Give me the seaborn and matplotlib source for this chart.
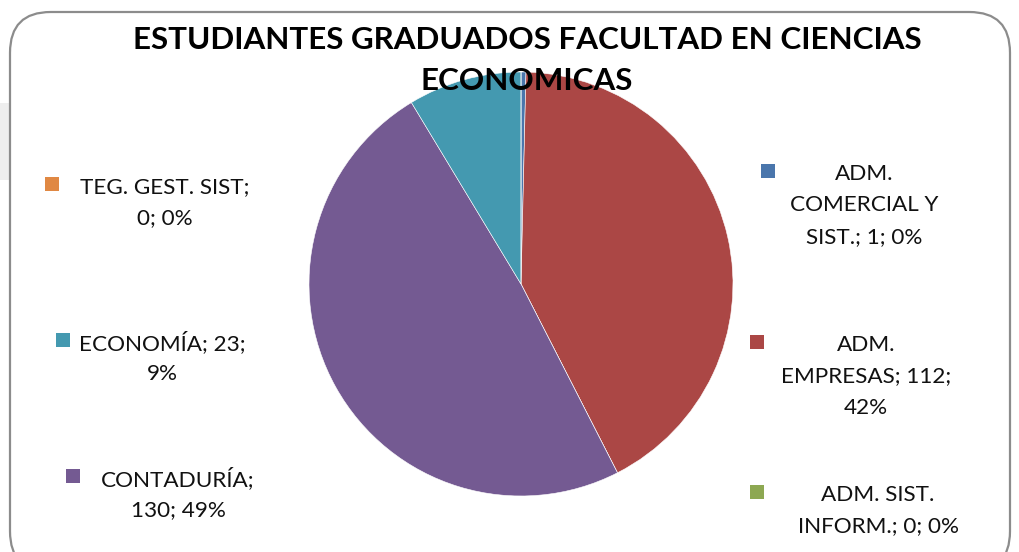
import matplotlib
matplotlib.use("Agg")
import matplotlib.pyplot as plt
from matplotlib.patches import FancyBboxPatch, Rectangle
import seaborn as sns

sns.set_theme(style="white")
plt.rcParams["font.family"] = ["Lato", "DejaVu Sans"]

# Graduates per programme (clockwise from 12 o'clock)
programas = ["ADM. COMERCIAL Y SIST.", "ADM. EMPRESAS", "ADM. SIST. INFORM.",
             "CONTADURÍA", "ECONOMÍA", "TEG. GEST. SIST"]
graduados = [1, 112, 0, 130, 23, 0]
colores = ["#4A76AC", "#AB4745", "#8DA852", "#745A92", "#4499B0", "#E08843"]

# Data-label lines for each programme
etiquetas = {
    "ADM. COMERCIAL Y SIST.": ["ADM.", "COMERCIAL Y", "SIST.; {v}; {p}%"],
    "ADM. EMPRESAS": ["ADM.", "EMPRESAS; {v};", "{p}%"],
    "ADM. SIST. INFORM.": ["ADM. SIST.", "INFORM.; {v}; {p}%"],
    "CONTADURÍA": ["CONTADURÍA;", "{v}; {p}%"],
    "ECONOMÍA": ["ECONOMÍA; {v};", "{p}%"],
    "TEG. GEST. SIST": ["TEG. GEST. SIST;", "{v}; {p}%"],
}
# label anchor (marker x, text center x, first line y) in pixels
posiciones = {
    "ADM. COMERCIAL Y SIST.": (768, 864, 174),
    "ADM. EMPRESAS": (757, 866, 345),
    "ADM. SIST. INFORM.": (757, 878, 495),
    "CONTADURÍA": (73, 178, 479),
    "ECONOMÍA": (63, 162, 343),
    "TEG. GEST. SIST": (52, 165, 187),
}

W, H = 1019, 552
fig = plt.figure(figsize=(W / 100, H / 100), dpi=100)
fig.patch.set_facecolor("white")

# light strip on the left edge and the rounded chart frame
fig.patches.append(Rectangle((0, 1 - 180 / H), 9 / W, 77 / H, transform=fig.transFigure,
                             facecolor="#EEEEEE", edgecolor="none", zorder=0))
frame = FancyBboxPatch((10 / W, -20 / H), 1000 / W, 560 / H,
                       boxstyle="round,pad=0,rounding_size=0.04",
                       transform=fig.transFigure, facecolor="white",
                       edgecolor="#8C8C8C", linewidth=1.6, zorder=1,
                       mutation_aspect=W / H)
fig.patches.append(frame)

# pie axes: centre (521, 284), radius 212 px
cx, cy, r = 521, 284, 212
ax = fig.add_axes([(cx - r) / W, (H - cy - r) / H, 2 * r / W, 2 * r / H])
ax.set_zorder(2)
ax.patch.set_alpha(0)
ax.pie(graduados, colors=colores, startangle=90, counterclock=False, radius=1,
       wedgeprops=dict(edgecolor="white", linewidth=0.4))
ax.set_xlim(-1, 1)
ax.set_ylim(-1, 1)
ax.set_aspect("equal")
ax.axis("off")

total = sum(graduados)
for nombre, valor, color in zip(programas, graduados, colores):
    mx, tx, ty = posiciones[nombre]
    pct = round(100 * valor / total)
    fig.patches.append(Rectangle(((mx - 7) / W, 1 - (ty + 4) / H), 14 / W, 14 / H,
                                 transform=fig.transFigure, facecolor=color,
                                 edgecolor="none", zorder=3))
    for i, linea in enumerate(etiquetas[nombre]):
        fig.text(tx / W, 1 - (ty + i * 31.5) / H, linea.format(v=valor, p=pct),
                 ha="center", va="center", fontsize=16.2, color="#111111", zorder=4)

fig.text(527 / W, 1 - 40 / H, "ESTUDIANTES GRADUADOS FACULTAD EN CIENCIAS",
         ha="center", va="center", fontsize=22.6, fontweight="bold", color="black", zorder=5)
fig.text(527 / W, 1 - 81 / H, "ECONOMICAS",
         ha="center", va="center", fontsize=22.6, fontweight="bold", color="black", zorder=5)

fig.savefig("out.png", dpi=100, facecolor="white")
